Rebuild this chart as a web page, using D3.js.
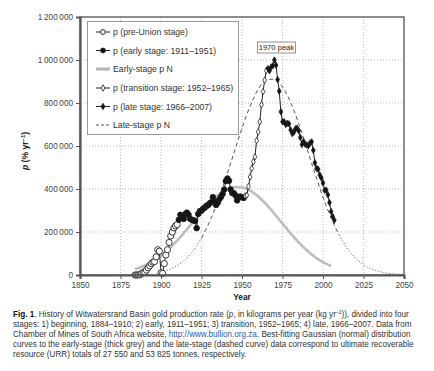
<!DOCTYPE html>
<html>
<head>
<meta charset="utf-8">
<script src="https://cdn.jsdelivr.net/npm/d3@7"></script>
<style>
  body { margin: 0; background: #fff; }
  svg { display: block; font-family: Arial, "Liberation Sans", sans-serif; }
</style>
</head>
<body>
<script>
// stage 1: pre-Union 1884-1910
var preYears = [1884, 1885, 1886, 1887, 1888, 1889, 1890, 1891, 1892, 1893, 1894, 1895, 1896, 1897, 1898, 1899, 1900, 1901, 1902, 1903, 1904, 1905, 1906, 1907, 1908, 1909, 1910];
var preValues = [0, 0, 500, 1000, 6900, 11400, 12500, 22700, 33600, 42500, 52400, 59500, 62100, 84400, 117500, 110400, 10700, 7500, 53000, 93100, 117600, 151200, 181400, 199700, 219200, 228100, 234600];

// stage 2: early 1911-1951
var earlyYears = [1911, 1912, 1913, 1914, 1915, 1916, 1917, 1918, 1919, 1920, 1921, 1922, 1923, 1924, 1925, 1926, 1927, 1928, 1929, 1930, 1931, 1932, 1933, 1934, 1935, 1936, 1937, 1938, 1939, 1940, 1941, 1942, 1943, 1944, 1945, 1946, 1947, 1948, 1949, 1950, 1951];
var earlyValues = [257000, 280000, 274000, 261000, 283000, 290000, 280000, 261000, 257000, 254000, 251000, 218000, 284000, 297000, 299000, 309000, 313000, 322000, 324000, 333000, 338000, 362000, 342000, 326000, 336000, 352000, 363000, 377000, 397000, 437000, 449000, 438000, 398000, 381000, 380000, 370000, 347000, 362000, 365000, 362000, 358000];

// stage 3: transition 1952-1965
var transYears = [1952, 1953, 1954, 1955, 1956, 1957, 1958, 1959, 1960, 1961, 1962, 1963, 1964, 1965];
var transValues = [368000, 371000, 412000, 456000, 496000, 527000, 550000, 625000, 665000, 713000, 792000, 853000, 906000, 951000];

// stage 4: late 1966-2007
var lateYears = [1966, 1967, 1968, 1969, 1970, 1971, 1972, 1973, 1974, 1975, 1976, 1977, 1978, 1979, 1980, 1981, 1982, 1983, 1984, 1985, 1986, 1987, 1988, 1989, 1990, 1991, 1992, 1993, 1994, 1995, 1996, 1997, 1998, 1999, 2000, 2001, 2002, 2003, 2004, 2005, 2006, 2007];
var lateValues = [960000, 950000, 967000, 973000, 1000000, 976000, 909000, 855000, 759000, 713000, 713000, 700000, 706000, 703000, 675000, 658000, 664000, 680000, 683000, 671000, 640000, 607000, 621000, 608000, 605000, 601000, 614000, 619000, 580000, 522000, 496000, 492000, 465000, 451000, 428000, 394000, 395000, 373000, 337000, 295000, 272000, 255000];

// fitted curves
var earlyFitYears = [1884, 1890, 1895, 1900, 1905, 1910, 1915, 1920, 1925, 1930, 1935, 1940, 1945, 1950, 1955, 1960, 1965, 1970, 1975, 1980, 1985, 1990, 1995, 2000, 2005];
var earlyFitValues = [27000, 44000, 64000, 90000, 122000, 160000, 203000, 249000, 294000, 336000, 371000, 396000, 409000, 407000, 392000, 365000, 328000, 285000, 239000, 194000, 152000, 115000, 84000, 60000, 41000];

var lateFitYears = [1900, 1905, 1910, 1915, 1920, 1925, 1930, 1935, 1940, 1945, 1950, 1955, 1960, 1965, 1970, 1975, 1980, 1985, 1990, 1995, 2000, 2005, 2010, 2015, 2020, 2025, 2030, 2035, 2040, 2045, 2050];
var lateFitValues = [14000, 25000, 44000, 72000, 114000, 172000, 248000, 341000, 450000, 567000, 683000, 785000, 864000, 907000, 911000, 875000, 803000, 704000, 590000, 473000, 362000, 265000, 185000, 124000, 79000, 48000, 28000, 16000, 8000, 4000, 2000];

var xTicks = [1850, 1875, 1900, 1925, 1950, 1975, 2000, 2025, 2050];
var yTicks = [0, 200000, 400000, 600000, 800000, 1000000, 1200000];

var legendLabels = ['p (pre-Union stage)', 'p (early stage: 1911\u20131951)', 'Early-stage p N',
  'p (transition stage: 1952\u20131965)', 'p (late stage: 1966\u20132007)', 'Late-stage p N'];

var captionLines = [
  [['b', 'Fig. 1'], ['', '. History of Witwatersrand Basin gold production rate ('], ['i', 'p'], ['', ', in kilograms per year (kg yr'], ['s', '\u20131'], ['u', ')), divided into four']],
  [['', 'stages: 1) beginning, 1884\u20131910; 2) early, 1911\u20131951; 3) transition, 1952\u20131965; 4) late, 1966\u20132007. Data from']],
  [['', 'Chamber of Mines of South Africa website, '], ['a', 'http://www.bullion.org.za'], ['', '. Best-fitting Gaussian (normal) distribution']],
  [['', 'curves to the early-stage (thick grey) and the late-stage (dashed curve) data correspond to ultimate recoverable']],
  [['', 'resource (URR) totals of 27 550 and 53 825 tonnes, respectively.']]
];

var W = 434, H = 371;
var LEFT = 80, RIGHT = 404, TOP = 17, BOTTOM = 275;

function zip(xs, ys) {
  return xs.map(function (x, i) { return {x: x, y: ys[i]}; });
}

var pre = zip(preYears, preValues);
var early = zip(earlyYears, earlyValues);
var trans = zip(transYears, transValues);
var late = zip(lateYears, lateValues);
var earlyFit = zip(earlyFitYears, earlyFitValues);
var lateFit = zip(lateFitYears, lateFitValues);

var x = d3.scaleLinear().domain([1850, 2050]).range([LEFT, RIGHT]);
var y = d3.scaleLinear().domain([0, 1200000]).range([BOTTOM, TOP]);

var fmt = d3.formatLocale({decimal: '.', thousands: '\u2009', grouping: [3], currency: ['', '']}).format(',');

var svg = d3.select('body').append('svg')
  .attr('width', W)
  .attr('height', H);

// grid
svg.append('g').selectAll('line')
  .data(xTicks.slice(1, -1))
  .enter().append('line')
    .attr('x1', function (d) { return x(d); })
    .attr('x2', function (d) { return x(d); })
    .attr('y1', TOP)
    .attr('y2', BOTTOM)
    .style('stroke', '#bbb')
    .style('stroke-dasharray', '1,2');
svg.append('g').selectAll('line')
  .data(yTicks.slice(1, -1))
  .enter().append('line')
    .attr('x1', LEFT)
    .attr('x2', RIGHT)
    .attr('y1', function (d) { return y(d); })
    .attr('y2', function (d) { return y(d); })
    .style('stroke', '#bbb')
    .style('stroke-dasharray', '1,2');

var line = d3.line()
  .x(function (d) { return x(d.x); })
  .y(function (d) { return y(d.y); });
var smooth = d3.line()
  .curve(d3.curveMonotoneX)
  .x(function (d) { return x(d.x); })
  .y(function (d) { return y(d.y); });

// early-stage fit (thick grey)
svg.append('path')
  .attr('d', smooth(earlyFit))
  .style('fill', 'none')
  .style('stroke', '#bdbdbd')
  .style('stroke-width', 2.6);

// late-stage fit: dotted outside the fitted range, dashed inside
var lateMid = lateFit.filter(function (d) { return d.x >= 1925 && d.x <= 2010; });
var lateLo = lateFit.filter(function (d) { return d.x <= 1925; });
var lateHi = lateFit.filter(function (d) { return d.x >= 2010; });
[[lateLo, '1,2'], [lateMid, '4,3'], [lateHi, '1,2']].forEach(function (p) {
  svg.append('path')
    .attr('d', smooth(p[0]))
    .style('fill', 'none')
    .style('stroke', '#555')
    .style('stroke-width', 1)
    .style('stroke-dasharray', p[1]);
});

// observed data line
svg.append('path')
  .attr('d', line(pre.concat(early, trans, late)))
  .style('fill', 'none')
  .style('stroke', '#222')
  .style('stroke-width', 1);

var diamond = d3.symbol().type(d3.symbolDiamond).size(12);

function markers(data, kind) {
  var g = svg.append('g');
  if (kind === 'openCircle' || kind === 'fillCircle') {
    g.selectAll('circle')
      .data(data)
      .enter().append('circle')
        .attr('cx', function (d) { return x(d.x); })
        .attr('cy', function (d) { return y(d.y); })
        .attr('r', kind === 'openCircle' ? 3.1 : 2.8)
        .style('fill', kind === 'openCircle' ? '#fff' : '#111')
        .style('stroke', '#222')
        .style('stroke-width', 0.9);
  } else {
    g.selectAll('path')
      .data(data)
      .enter().append('path')
        .attr('d', diamond)
        .attr('transform', function (d) { return 'translate(' + x(d.x) + ',' + y(d.y) + ')'; })
        .style('fill', kind === 'openDiamond' ? '#fff' : '#111')
        .style('stroke', '#222')
        .style('stroke-width', 0.8);
  }
}
markers(pre, 'openCircle');
markers(early, 'fillCircle');
markers(trans, 'openDiamond');
markers(late, 'fillDiamond');

// frame
svg.append('rect')
  .attr('x', LEFT)
  .attr('y', TOP)
  .attr('width', RIGHT - LEFT)
  .attr('height', BOTTOM - TOP)
  .style('fill', 'none')
  .style('stroke', '#444')
  .style('stroke-width', 1.2);

// axes
var xAxis = svg.append('g')
  .attr('transform', 'translate(0,' + BOTTOM + ')')
  .call(d3.axisBottom(x).tickValues(xTicks).tickFormat(d3.format('d')).tickSize(4).tickPadding(3));
var yAxis = svg.append('g')
  .attr('transform', 'translate(' + LEFT + ',0)')
  .call(d3.axisLeft(y).tickValues(yTicks).tickFormat(fmt).tickSize(4).tickPadding(3));
[xAxis, yAxis].forEach(function (a) {
  a.select('.domain').style('stroke', '#555').style('stroke-width', 2.2);
  a.selectAll('.tick line').style('stroke', '#555');
  a.selectAll('.tick text')
    .style('fill', '#444')
    .style('font-size', '8.2px')
    .style('font-family', 'Arial, "Liberation Sans", sans-serif');
});

// axis titles
svg.append('text')
  .attr('x', (LEFT + RIGHT) / 2)
  .attr('y', 300)
  .attr('text-anchor', 'middle')
  .style('font-size', '8.4px')
  .style('font-weight', 'bold')
  .style('fill', '#222')
  .text('Year');

var yt = svg.append('text')
  .attr('transform', 'translate(28,151) rotate(-90)')
  .attr('text-anchor', 'middle')
  .style('font-size', '8.6px')
  .style('font-weight', 'bold')
  .style('fill', '#222');
yt.append('tspan').style('font-style', 'italic').text('p');
yt.append('tspan').text(' (% yr');
yt.append('tspan').attr('dy', -3.5).style('font-size', '6px').text('\u20131');
yt.append('tspan').attr('dy', 3.5).text(')');

// 1970 peak label
var peak = late.filter(function (d) { return d.x === 1970; })[0];
svg.append('rect')
  .attr('x', x(peak.x) - 17)
  .attr('y', y(peak.y) - 18)
  .attr('width', 38)
  .attr('height', 11)
  .style('fill', '#fff')
  .style('stroke', '#777')
  .style('stroke-width', 0.8);
svg.append('text')
  .attr('x', x(peak.x) + 2)
  .attr('y', y(peak.y) - 9.7)
  .attr('text-anchor', 'middle')
  .style('font-size', '7.6px')
  .style('fill', '#222')
  .text('1970 peak');

// legend
var lg = svg.append('g');
lg.append('rect')
  .attr('x', 87.5)
  .attr('y', 21.5)
  .attr('width', 151)
  .attr('height', 113)
  .style('fill', '#fff')
  .style('stroke', '#999')
  .style('stroke-width', 1);
var rowY = [32, 50.5, 69, 88, 106.5, 125];
var kinds = ['openCircle', 'fillCircle', 'grey', 'openDiamond', 'fillDiamond', 'dash'];
legendLabels.forEach(function (label, i) {
  var ry = rowY[i], k = kinds[i];
  if (k === 'grey') {
    lg.append('line').attr('x1', 96).attr('x2', 110).attr('y1', ry).attr('y2', ry)
      .style('stroke', '#b3b3b3').style('stroke-width', 3);
  } else if (k === 'dash') {
    lg.append('line').attr('x1', 96).attr('x2', 110).attr('y1', ry).attr('y2', ry)
      .style('stroke', '#555').style('stroke-dasharray', '3,2');
  } else {
    lg.append('line').attr('x1', 96).attr('x2', 110).attr('y1', ry).attr('y2', ry)
      .style('stroke', '#222');
    if (k === 'openCircle' || k === 'fillCircle') {
      lg.append('circle').attr('cx', 103).attr('cy', ry).attr('r', 2.4)
        .style('fill', k === 'openCircle' ? '#fff' : '#111').style('stroke', '#222');
    } else {
      lg.append('path').attr('d', diamond).attr('transform', 'translate(103,' + ry + ')')
        .style('fill', k === 'openDiamond' ? '#fff' : '#111').style('stroke', '#222').style('stroke-width', 0.8);
    }
  }
  lg.append('text')
    .attr('x', 113)
    .attr('y', ry + 3.2)
    .style('font-size', '8.7px')
    .style('fill', '#333')
    .text(label);
});

// caption
var cap = svg.append('g');
captionLines.forEach(function (parts, i) {
  var t = cap.append('text')
    .attr('x', 13)
    .attr('y', 317 + i * 10)
    .style('font-size', '8.15px')
    .style('fill', '#333');
  parts.forEach(function (p) {
    var s = t.append('tspan').text(p[1]);
    if (p[0] === 'b') s.style('font-weight', 'bold').style('fill', '#111');
    if (p[0] === 'i') s.style('font-style', 'italic');
    if (p[0] === 'a') s.style('fill', '#2a5db0');
    if (p[0] === 's') s.attr('dy', -3).style('font-size', '5px');
    if (p[0] === 'u') s.attr('dy', 3);
  });
});
</script>
</body>
</html>
